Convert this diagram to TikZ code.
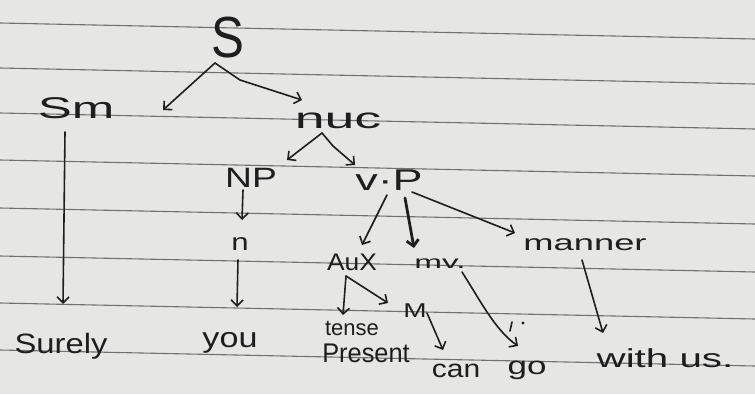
\documentclass[tikz,border=0pt]{standalone}
\usepackage{fontspec}
\setmainfont{Liberation Sans}
\usetikzlibrary{arrows.meta}
\definecolor{paper}{HTML}{E6E7E5}
\definecolor{rulecol}{HTML}{707070}
\definecolor{ink}{HTML}{1E1E1E}
\newcommand{\hand}[2]{\scalebox{#1}[1]{#2}}
\begin{document}
\begin{tikzpicture}[x=1pt,y=-1pt,
  lbl/.style={inner sep=0pt, anchor=base, text=ink},
  arr/.style={draw=ink, line width=1.6pt, line cap=round, line join=round, -{Straight Barb[length=6pt,width=12pt]}},
  paperline/.style={draw=rulecol, line width=1.1pt}]
\fill[paper] (0,0) rectangle (755,394);
\useasboundingbox (0,0) rectangle (755,394);
\foreach \y in {23,68,113,160,208,256,303,350} \draw[paperline] (0,\y) -- (755,\y+16);
% labels
\node[lbl, font=\fontsize{58}{58}\selectfont] (S) at (228,57) {\hand{0.85}{S}};
\node[lbl, font=\fontsize{30}{30}\selectfont] (Sm) at (76,118) {\hand{1.7}{Sm}};
\node[lbl, font=\fontsize{29}{29}\selectfont] (nuc) at (338,128) {\hand{1.85}{nuc}};
\node[lbl, font=\fontsize{28}{28}\selectfont] (NP) at (251,187) {\hand{1.33}{NP}};
\node[lbl, font=\fontsize{30}{30}\selectfont] (VP) at (389,190) {\hand{1.5}{v·P}};
\node[lbl, font=\fontsize{24}{24}\selectfont] (n) at (240,250) {\hand{1.3}{n}};
\node[lbl, font=\fontsize{28}{28}\selectfont] (you) at (230,347) {\hand{1.22}{you}};
\node[lbl, font=\fontsize{28}{28}\selectfont] (surely) at (61,353) {\hand{1.17}{Surely}};
\node[lbl, font=\fontsize{24}{24}\selectfont] (aux) at (352,270) {\hand{1.1}{AuX}};
\node[lbl, font=\fontsize{18}{18}\selectfont] (mv) at (440,268) {\hand{1.85}{mv.}};
\node[lbl, font=\fontsize{22}{22}\selectfont] (manner) at (585,250) {\hand{1.65}{manner}};
\node[lbl, font=\fontsize{20}{20}\selectfont] (M) at (415,317) {\hand{1.4}{M}};
\node[lbl, font=\fontsize{22}{22}\selectfont] (tense) at (352,335) {\hand{1.0}{tense}};
\node[lbl, font=\fontsize{27}{27}\selectfont] (present) at (366,362) {\hand{0.94}{Present}};
\node[lbl, font=\fontsize{25}{25}\selectfont] (can) at (456,377) {\hand{1.2}{can}};
\node[lbl, font=\fontsize{25}{25}\selectfont] (go) at (527,374) {\hand{1.4}{go}};
\node[lbl, font=\fontsize{26}{26}\selectfont] (with) at (665,367) {\hand{1.55}{with us.}};
% connector points
\coordinate (Sapex) at (215,63);
\coordinate (Sbend) at (240,80);
\coordinate (SmTip) at (163,110);
\coordinate (nucTip) at (302,100);
\coordinate (nucApex) at (322,133);
\coordinate (nucBend) at (333,146);
\coordinate (NPTip) at (287,160);
\coordinate (VPTip) at (355,165);
\coordinate (SmFoot) at (65,132);
\coordinate (surelyTip) at (63,304);
\coordinate (NPFoot) at (243,190);
\coordinate (nTip) at (242,220);
\coordinate (nFoot) at (238,260);
\coordinate (youTip) at (237,307);
\coordinate (VPfootA) at (387,195);
\coordinate (auxTip) at (362,245);
\coordinate (VPfootB) at (405,198);
\coordinate (mvTip) at (414,248);
\coordinate (VPfootC) at (412,192);
\coordinate (mannerTip) at (515,233);
\coordinate (auxApex) at (346,276);
\coordinate (tenseTip) at (343,315);
\coordinate (MTip) at (388,303);
\coordinate (MFoot) at (427,313);
\coordinate (canTip) at (443,350);
\coordinate (mvFoot) at (462,272);
\coordinate (goTip) at (518,346);
\coordinate (mannerFoot) at (582,260);
\coordinate (withTip) at (603,333);
% connectors
\draw[arr] (Sapex) -- (SmTip);
\draw[arr] (Sapex) -- (Sbend) -- (nucTip);
\draw[arr] (nucApex) -- (NPTip);
\draw[arr] (nucApex) -- (nucBend) -- (VPTip);
\draw[arr] (SmFoot) -- (surelyTip);
\draw[arr] (NPFoot) -- (nTip);
\draw[arr] (nFoot) -- (youTip);
\draw[arr] (VPfootA) -- (auxTip);
\draw[arr, line width=2.8pt] (VPfootB) -- (mvTip);
\draw[arr] (VPfootC) -- (mannerTip);
\draw[arr] (auxApex) -- (tenseTip);
\draw[arr] (auxApex) -- (MTip);
\draw[arr] (MFoot) -- (canTip);
\draw[arr] (mvFoot) .. controls (480,300) and (495,330) .. (goTip);
\draw[arr] (mannerFoot) -- (withTip);
% ink marks beside the arrow to "go"
\draw[ink, line width=1.6pt, line cap=round] (512,322) -- (510,331);
\fill[ink] (523,323) circle (1.6);
\end{tikzpicture}
\end{document}
